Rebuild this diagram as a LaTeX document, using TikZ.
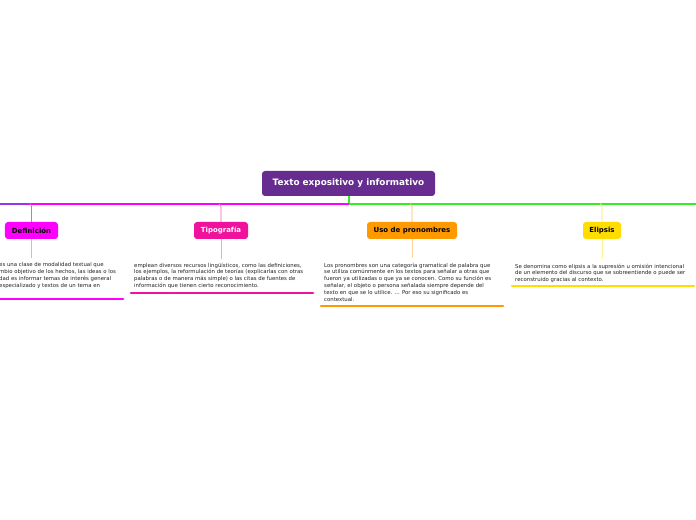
\documentclass[tikz,border=0pt]{standalone}
\usepackage{fontspec}
\setmainfont{DejaVu Sans}
\begin{document}
\begin{tikzpicture}[x=1bp,y=-1bp]
\definecolor{rootc}{HTML}{662C8F}
\definecolor{defc}{HTML}{FF00FF}
\definecolor{tipc}{HTML}{F0129C}
\definecolor{usoc}{HTML}{FF9900}
\definecolor{elic}{HTML}{FFDD00}
\definecolor{greenc}{HTML}{33EE22}
\definecolor{purpc}{HTML}{9933EE}
\definecolor{txtc}{HTML}{222222}
\tikzset{
  topic/.style={rounded corners=3bp, inner sep=0pt, font=\fontsize{7}{8}\selectfont\bfseries, align=center},
  para/.style={anchor=north west, inner sep=0pt, align=left, text=txtc, font=\fontsize{5.4}{7}\selectfont},
  uline/.style={line width=2.6bp, line cap=round},
  bus/.style={line width=1.8bp},
  twig/.style={line width=0.8bp}
}
\useasboundingbox (0,0) rectangle (696,520);
\clip (0,0) rectangle (696,520);
% root
\node[topic, fill=rootc, text=white, minimum width=173bp, minimum height=25bp, font=\fontsize{8.9}{10}\selectfont\bfseries] (root) at (348.5,183.5) {Texto expositivo y informativo};
\coordinate (hub) at (349,204);
\coordinate (busL) at (0,204);
\coordinate (busR) at (696,204);
\coordinate (busP) at (28,204);
\draw[bus, greenc] (root.south -| hub) -- (hub);
\draw[bus, defc] (hub) -- (busP);
\draw[bus, purpc] (busP) -- (busL);
\draw[bus, greenc] (hub) -- (busR);
% children
\node[topic, fill=defc, text=black, minimum width=53bp, minimum height=17bp] (def) at (31.5,230.5) {Definición};
\node[topic, fill=tipc, text=white, minimum width=54bp, minimum height=17bp] (tip) at (221,230.5) {Tipografía};
\node[topic, fill=usoc, text=black, minimum width=90bp, minimum height=17bp] (uso) at (412,230.5) {Uso de pronombres};
\node[topic, fill=elic, text=black, minimum width=38bp, minimum height=17bp] (eli) at (602,230.5) {Elipsis};
% twigs from bus
\foreach \n/\c in {def/defc, tip/tipc, uso/usoc, eli/elic}{
  \draw[twig, \c!70] (\n.north) -- ++(0,-15) to[out=90,in=0] ++(-2,-3);
}
% paragraphs
\node[para] (tdef) at (-1,262) {es una clase de modalidad textual que\\mbio objetivo de los hechos, las ideas o los\\dad es informar temas de interés general\\especializado y textos de un tema en};
\node[para] (ttip) at (134,262.5) {emplean diversos recursos lingüísticos, como las definiciones,\\los ejemplos, la reformulación de teorías (explicarlas con otras\\palabras o de manera más simple) o las citas de fuentes de\\información que tienen cierto reconocimiento.};
\node[para] (tuso) at (324,262.5) {Los pronombres son una categoría gramatical de palabra que\\se utiliza comúnmente en los textos para señalar a otras que\\fueron ya utilizadas o que ya se conocen. Como su función es\\señalar, el objeto o persona señalada siempre depende del\\texto en que se lo utilice. ... Por eso su significado es\\contextual.};
\node[para] (teli) at (515,263.5) {Se denomina como elipsis a la supresión u omisión intencional\\de un elemento del discurso que se sobreentiende o puede ser\\reconstruido gracias al contexto.};
% stems from boxes to text
\draw[twig, defc!40] (def.south) -- (def.south |- 0,258);
\draw[twig, tipc!40] (tip.south) -- (tip.south |- 0,259);
\draw[twig, usoc!40] (uso.south) -- (uso.south |- 0,258);
\draw[twig, elic!40] (eli.south) -- (eli.south |- 0,259);
% underlines
\draw[uline, defc] (-2,299) -- (123,299);
\draw[uline, tipc] (131,293) -- (313,293);
\draw[uline, usoc] (321,306) -- (503,306);
\draw[uline, elic] (512,286) -- (694,286);
\end{tikzpicture}
\end{document}
